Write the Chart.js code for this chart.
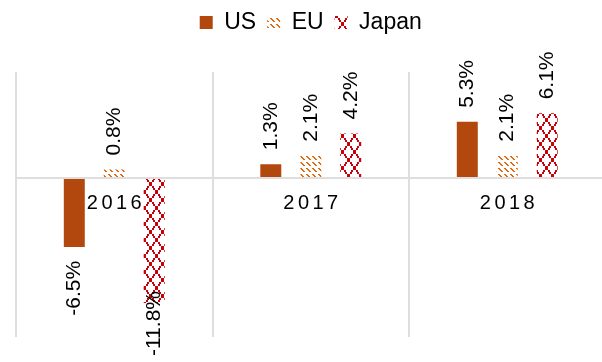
<!DOCTYPE html>
<html>
<head>
<meta charset="utf-8">
<script src="https://cdn.jsdelivr.net/npm/chart.js@4/dist/chart.umd.min.js"></script>
<style>
  html, body { margin: 0; padding: 0; background: #fff; overflow: hidden; width: 602px; height: 362px; }
  #wrap { position: relative; width: 636px; height: 362px; }
</style>
</head>
<body>
<div id="wrap"><canvas id="c" width="636" height="362"></canvas></div>
<script>
// Growth by region, percent
const categories = ['2016', '2017', '2018'];
const seriesNames = ['US', 'EU', 'Japan'];
const usValues = [-6.5, 1.3, 5.3];
const euValues = [0.8, 2.1, 2.1];
const japanValues = [-11.8, 4.2, 6.1];
const yMin = -15;
const yMax = 10;

const FONT = "'Liberation Sans', Arial, sans-serif";
const canvas = document.getElementById('c');
const mainCtx = canvas.getContext('2d');

// Small repeating tiles used as bar fills
function makePattern(w, h, color, paint) {
  const tile = document.createElement('canvas');
  tile.width = w; tile.height = h;
  const t = tile.getContext('2d');
  t.fillStyle = '#fff';
  t.fillRect(0, 0, w, h);
  t.fillStyle = color;
  paint(t);
  return mainCtx.createPattern(tile, 'repeat');
}

// dashed downward diagonal
const euPattern = makePattern(6, 6, '#E4690F', t => {
  for (let k = 0; k < 4; k++) t.fillRect(k, k, 2, 1);
});

// dotted diamond lattice
const japanPattern = makePattern(12, 16, '#C8000A', t => {
  for (let k = 0; k <= 8; k++) {
    const x = Math.round(1.5 * k), y = 2 * k;
    t.fillRect(x, y, 2, 2);
    t.fillRect(12 - x - 1, y, 2, 2);
  }
});

const legendGap = {
  id: 'legendGap',
  afterInit(chart) {
    const legend = chart.legend;
    const fit = legend.fit;
    legend.fit = function () { fit.call(this); this.height += 28; };
  }
};

const barValueLabels = {
  id: 'barValueLabels',
  afterDatasetsDraw(chart) {
    const ctx = chart.ctx;
    ctx.save();
    ctx.font = `21px ${FONT}`;
    ctx.fillStyle = '#000';
    ctx.textBaseline = 'middle';
    chart.data.datasets.forEach((ds, di) => {
      const meta = chart.getDatasetMeta(di);
      meta.data.forEach((bar, i) => {
        const v = ds.data[i];
        const text = v.toFixed(1) + '%';
        const w = ctx.measureText(text).width;
        ctx.save();
        if (v >= 0) {
          ctx.translate(bar.x, bar.y - 14);
          ctx.rotate(-Math.PI / 2);
          ctx.textAlign = 'left';
          ctx.fillText(text, 0, 0);
        } else {
          let y = bar.y + 14;
          const limit = chart.height - 6;
          if (y + w > limit) y = limit - w;
          ctx.translate(bar.x, y);
          ctx.rotate(-Math.PI / 2);
          ctx.textAlign = 'right';
          ctx.fillText(text, 0, 0);
        }
        ctx.restore();
      });
    });
    ctx.restore();
  }
};

const categoryLabels = {
  id: 'categoryLabels',
  afterDatasetsDraw(chart) {
    const ctx = chart.ctx, xs = chart.scales.x, ys = chart.scales.y;
    const spacing = 3.5;
    ctx.save();
    ctx.font = `20px ${FONT}`;
    ctx.letterSpacing = spacing + 'px';
    ctx.fillStyle = '#000';
    ctx.textAlign = 'center';
    ctx.textBaseline = 'middle';
    const y0 = ys.getPixelForValue(0);
    categories.forEach((c, i) => ctx.fillText(c, xs.getPixelForValue(i) + spacing / 2, y0 + 25));
    ctx.restore();
  }
};

new Chart(mainCtx, {
  type: 'bar',
  data: {
    labels: categories,
    datasets: [
      { label: seriesNames[0], data: usValues, backgroundColor: '#B3480F', borderWidth: 0 },
      { label: seriesNames[1], data: euValues, backgroundColor: euPattern, borderWidth: 0 },
      { label: seriesNames[2], data: japanValues, backgroundColor: japanPattern, borderWidth: 0 }
    ]
  },
  options: {
    responsive: false,
    animation: false,
    devicePixelRatio: 1,
    datasets: { bar: { categoryPercentage: 0.61, barPercentage: 0.525 } },
    layout: { padding: { left: 16, right: 30.5, top: 0, bottom: 25 } },
    plugins: {
      legend: {
        position: 'top',
        labels: {
          font: { size: 23, family: FONT },
          color: '#000',
          boxWidth: 13,
          boxHeight: 13,
          padding: 11
        }
      },
      tooltip: { enabled: false }
    },
    scales: {
      x: {
        grid: { offset: true, color: '#dedede', lineWidth: 2, drawTicks: false },
        border: { display: false },
        ticks: { display: false }
      },
      y: {
        min: yMin,
        max: yMax,
        ticks: { display: false, stepSize: 5 },
        grid: {
          color: c => (c.tick && c.tick.value === 0 ? '#dedede' : 'rgba(0,0,0,0)'),
          lineWidth: 2,
          drawTicks: false
        },
        border: { display: false }
      }
    }
  },
  plugins: [legendGap, barValueLabels, categoryLabels]
});
</script>
</body>
</html>
